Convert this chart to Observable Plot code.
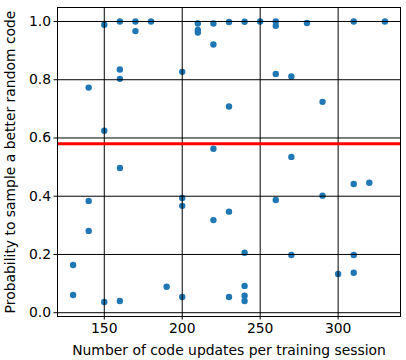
<!DOCTYPE html>
<html>
<head>
<meta charset="utf-8">
<script src="https://cdn.jsdelivr.net/npm/d3@7"></script>
<script src="https://cdn.jsdelivr.net/npm/@observablehq/plot@0.6"></script>
<style>
  html, body { margin: 0; padding: 0; background: #fff; }
  #chart { width: 406px; height: 360px; }
  svg { font-family: "DejaVu Sans", sans-serif; }
</style>
</head>
<body>
<div id="chart"></div>
<script>
const updates = [
  150, 160, 170, 180, 170, 160, 160, 140, 150, 200,
  210, 210, 210, 220, 220, 230, 230, 220,
  240, 250, 260, 260, 280, 310, 330, 260, 270, 290, 270,
  160, 140, 140, 200, 200, 220, 230,
  130, 130, 150, 160, 190, 200, 230,
  310, 320, 260, 290, 240, 270, 310, 300, 310, 240, 240, 240
];
const probability = [
  0.989, 1.0, 1.0, 1.0, 0.967, 0.835, 0.803, 0.773, 0.625, 0.827,
  0.993, 0.971, 0.962, 0.993, 0.921, 0.998, 0.708, 0.563,
  0.999, 1.0, 1.0, 0.985, 0.995, 1.0, 1.0, 0.82, 0.811, 0.724, 0.535,
  0.497, 0.384, 0.281, 0.394, 0.367, 0.318, 0.347,
  0.164, 0.061, 0.037, 0.04, 0.089, 0.054, 0.054,
  0.442, 0.446, 0.387, 0.402, 0.206, 0.198, 0.198, 0.133, 0.137, 0.092, 0.058, 0.04
];
const threshold = [0.58];
const xTicks = [150, 200, 250, 300];
const yTicks = [0, 0.2, 0.4, 0.6, 0.8, 1.0];

const data = updates.map((u, i) => ({u, p: probability[i]}));

const chart = Plot.plot({
  width: 406,
  height: 360,
  marginLeft: 57,
  marginRight: 6,
  marginTop: 7,
  marginBottom: 44,
  style: {fontSize: "13.9px", fontFamily: "DejaVu Sans, sans-serif", color: "#000", background: "#fff"},
  x: {
    domain: [120, 340],
    ticks: xTicks,
    tickSize: 3.5,
    tickPadding: 3,
    label: "Number of code updates per training session",
    labelAnchor: "center",
    labelArrow: "none",
    labelOffset: 38
  },
  y: {
    domain: [-0.013, 1.048],
    ticks: yTicks,
    tickSize: 3.5,
    tickPadding: 3,
    tickFormat: d3.format(".1f"),
    label: "Probability to sample a better random code",
    labelAnchor: "center",
    labelArrow: "none",
    labelOffset: 52
  },
  marks: [
    Plot.dot(data, {x: "u", y: "p", r: 3.2, fill: "#1f77b4", stroke: "none"}),
    Plot.gridX(xTicks, {stroke: "#000", strokeOpacity: 1, strokeWidth: 1}),
    Plot.gridY(yTicks, {stroke: "#000", strokeOpacity: 1, strokeWidth: 1}),
    Plot.ruleY(threshold, {stroke: "red", strokeWidth: 3}),
    Plot.frame({stroke: "#000", strokeWidth: 1})
  ]
});
document.getElementById("chart").appendChild(chart);
</script>
</body>
</html>
